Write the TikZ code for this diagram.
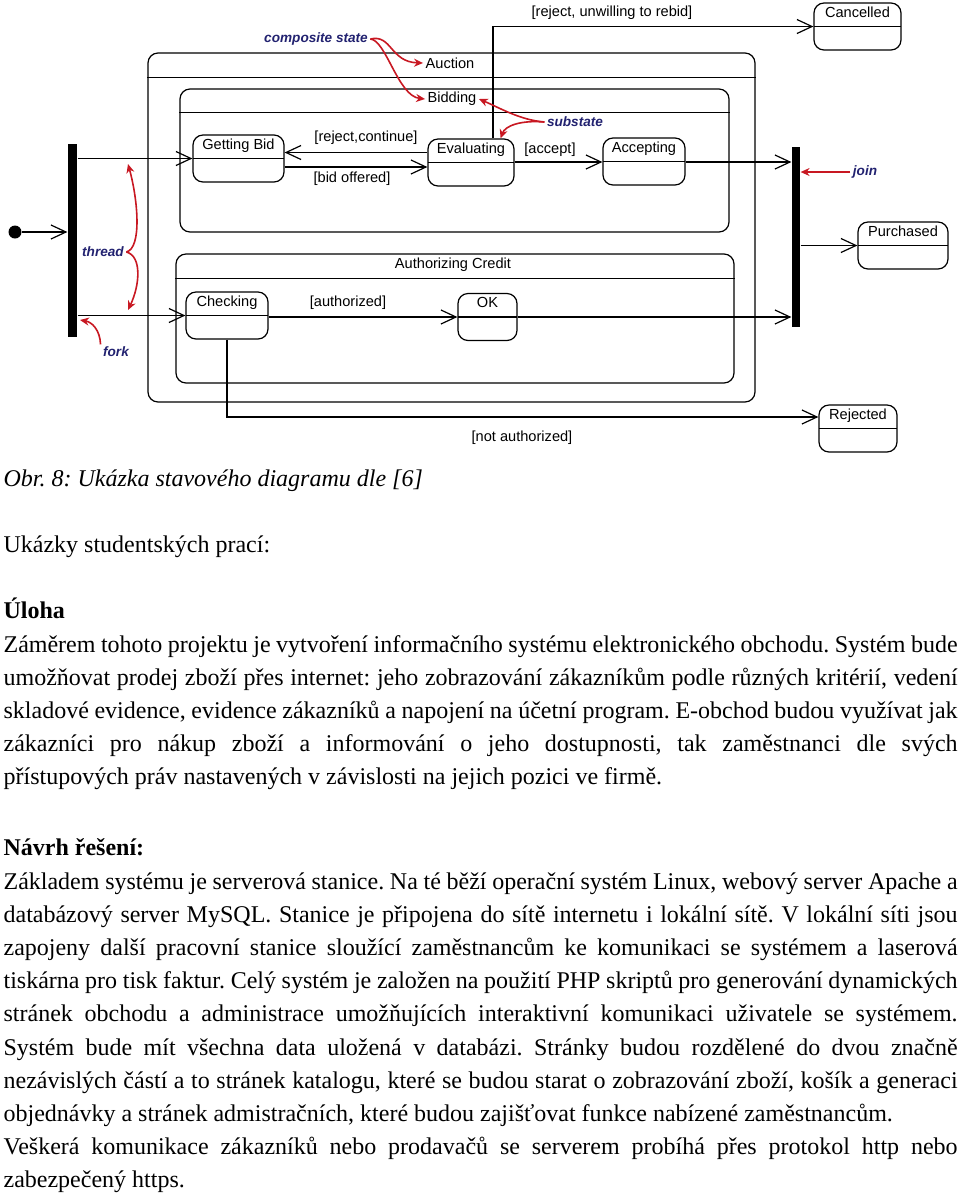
\documentclass[tikz,border=0pt]{standalone}
\usepackage{fontspec}
\setmainfont{Liberation Serif}
\newfontfamily\diafont{Liberation Sans}
\usetikzlibrary{arrows.meta,positioning}
\definecolor{annred}{RGB}{200,24,34}
\definecolor{annblue}{RGB}{34,34,112}
\hyphenpenalty=10000
\exhyphenpenalty=10000
\frenchspacing

\begin{document}
\begin{tikzpicture}[
  x=0.5pt,y=-0.5pt,
  line width=0.6pt,
  lbl/.style={font=\diafont\fontsize{7.3}{8.5}\selectfont,inner sep=1pt},
  note/.style={font=\diafont\bfseries\itshape\fontsize{6.8}{8}\selectfont,
               text=annblue,inner sep=1pt},
  state/.style={draw,rounded corners=5pt,minimum height=23.5pt,inner sep=0pt,
    path picture={\draw (path picture bounding box.west) -- (path picture bounding box.east);},
    label={[lbl,anchor=north,yshift=-1pt]north:#1}},
  comp/.style={draw,rounded corners=5pt,inner sep=0pt},
  bar/.style={fill=black,inner sep=0pt},
  tr/.style={-{Straight Barb[length=7.5pt,width=7pt]}},
  ann/.style={annred,line width=0.8pt,-{Stealth[length=4.5pt,width=4pt]}},
  body/.style={font=\fontsize{12}{16.6}\selectfont,inner sep=0pt,anchor=base west}]
\useasboundingbox (0,0) rectangle (960,1196);
% composite states
\node[comp,minimum width=303.5pt,minimum height=174.5pt] (auction) at (451.5,227.5) {};
\node[comp,minimum width=274.5pt,minimum height=71.5pt] (bidding) at (454.5,160.5) {};
\node[comp,minimum width=279pt,minimum height=64.5pt] (authcredit) at (455,318.5) {};
\draw ([yshift=-12.5pt]auction.north west) -- ([yshift=-12.5pt]auction.north east);
\draw ([yshift=-12pt]bidding.north west) -- ([yshift=-12pt]bidding.north east);
\draw ([yshift=-12.5pt]authcredit.north west) -- ([yshift=-12.5pt]authcredit.north east);
\node[lbl] (auctitle) at (450,63) {Auction};
\node[lbl] (bidtitle) at (452,99) {Bidding};
\node[lbl] (authtitle) at (453,265) {Authorizing Credit};
% simple states
\node[state=Getting Bid,minimum width=45.5pt] (getbid) at (238.5,158.5) {};
\node[state=Evaluating,minimum width=43pt] (evaluating) at (471,162.5) {};
\node[state=Accepting,minimum width=41pt] (accepting) at (644,161.5) {};
\node[state=Cancelled,minimum width=43.5pt] (cancelled) at (857.5,26.5) {};
\node[state=Purchased,minimum width=45pt] (purchased) at (903,245.5) {};
\node[state=Checking,minimum width=41pt] (checking) at (227,315.5) {};
\node[state=OK,minimum width=29.5pt] (ok) at (487.5,317) {};
\node[state=Rejected,minimum width=39pt] (rejected) at (858,428.5) {};
% pseudo states
\node[circle,fill=black,minimum size=6.5pt,inner sep=0pt] (init) at (15,232) {};
\node[bar,minimum width=4.5pt,minimum height=96.5pt] (fork) at (72.5,240.5) {};
\node[bar,minimum width=4pt,minimum height=90pt] (join) at (796,237) {};
% transitions
\draw[tr] (init) -- (init -| fork.west);
\draw[tr] (fork.east |- getbid.west) -- (getbid.west);
\draw[tr] (fork.east |- checking.west) -- (checking.west);
\draw[tr] (getbid.east |- 0,167) -- (evaluating.west |- 0,167);
\draw[tr] (evaluating.west |- 0,152.5) -- (getbid.east |- 0,152.5);
\draw[tr] (evaluating.east |- 0,162) -- (accepting.west |- 0,162);
\draw[tr] (accepting.east |- 0,162) -- (join.west |- 0,162);
\draw[tr] (493,0 |- evaluating.north) |- (cancelled.west);
\draw[tr] (checking.east |- ok.west) -- (ok.west);
\draw[tr] (ok.east) -- (ok.east -| join.west);
\draw[tr] (join.east |- purchased.west) -- (purchased.west);
\draw[tr] (checking.south) |- (rejected.west |- 0,417);
\node[lbl] (lrejcont) at (366,138) {[reject,continue]};
\node[lbl] (lbid) at (352,179) {[bid offered]};
\node[lbl] (lacc) at (550,150) {[accept]};
\node[lbl] (lrebid) at (612,13) {[reject, unwilling to rebid]};
\node[lbl] (lauth) at (348,303) {[authorized]};
\node[lbl] (lnotauth) at (522,438) {[not authorized]};
% annotations
\node[note] (compnote) at (316,39) {composite state};
\node[note] (subnote) at (575,122) {substate};
\node[note] (joinnote) at (865,172) {join};
\node[note] (threadnote) at (103,252) {thread};
\node[note] (forknote) at (116,352) {fork};
\coordinate (thrup) at (128,164);
\coordinate (thrdn) at (128,310);
\coordinate (forktip) at (80,320);
\draw[ann] (compnote.east) .. controls (392,34) and (390,62) .. (auctitle.west);
\draw[ann] (compnote.east) .. controls (386,40) and (398,96) .. (bidtitle.west);
\draw[ann] (subnote.west) .. controls (520,120) and (500,108) .. (bidtitle.east);
\draw[ann] (subnote.west) .. controls (520,120) and (505,126) .. ([xshift=-7pt]evaluating.north east);
\draw[ann] (joinnote.west) -- (joinnote.west -| join.east);
\draw[ann] (threadnote.east) .. controls (142,248) and (138,200) .. (thrup);
\draw[ann] (threadnote.east) .. controls (142,256) and (140,285) .. (thrdn);
\draw[ann] (forknote.north west) .. controls (100,330) and (92,322) .. (forktip);
% text below
\node[body,font=\itshape\fontsize{12}{16.6}\selectfont] (caption) at (3,486) {Obr. 8: Ukázka stavového diagramu dle [6]};
\node[body] (samples) at (3,552) {Ukázky studentských prací:};
\node[body,font=\bfseries\fontsize{12}{16.6}\selectfont] (taskhead) at (3,618) {Úloha};
\node[body,text width=477pt,align=justify] (task) at (3,652) {Záměrem tohoto projektu je vytvoření informačního systému elektronického obchodu. Systém bude\linebreak
umožňovat prodej zboží přes internet: jeho zobrazování zákazníkům podle různých kritérií, vedení\linebreak
skladové evidence, evidence zákazníků a napojení na účetní program. E-obchod budou využívat jak\linebreak
zákazníci pro nákup zboží a informování o jeho dostupnosti, tak zaměstnanci dle svých\linebreak
přístupových práv nastavených v závislosti na jejich pozici ve firmě.};
\node[body,font=\bfseries\fontsize{12}{16.6}\selectfont] (solhead) at (3,855) {Návrh řešení:};
\node[body,text width=477pt,align=justify] (solution) at (3,889) {Základem systému je serverová stanice. Na té běží operační systém Linux, webový server Apache a\linebreak
databázový server MySQL. Stanice je připojena do sítě internetu i lokální sítě. V lokální síti jsou\linebreak
zapojeny další pracovní stanice sloužící zaměstnancům ke komunikaci se systémem a laserová\linebreak
tiskárna pro tisk faktur. Celý systém je založen na použití PHP skriptů pro generování dynamických\linebreak
stránek obchodu a administrace umožňujících interaktivní komunikaci uživatele se systémem.\linebreak
Systém bude mít všechna data uložená v databázi. Stránky budou rozdělené do dvou značně\linebreak
nezávislých částí a to stránek katalogu, které se budou starat o zobrazování zboží, košík a generaci\linebreak
objednávky a stránek admistračních, které budou zajišťovat funkce nabízené zaměstnancům.\par
Veškerá komunikace zákazníků nebo prodavačů se serverem probíhá přes protokol http nebo\linebreak
zabezpečený https.};
\end{tikzpicture}
\end{document}
